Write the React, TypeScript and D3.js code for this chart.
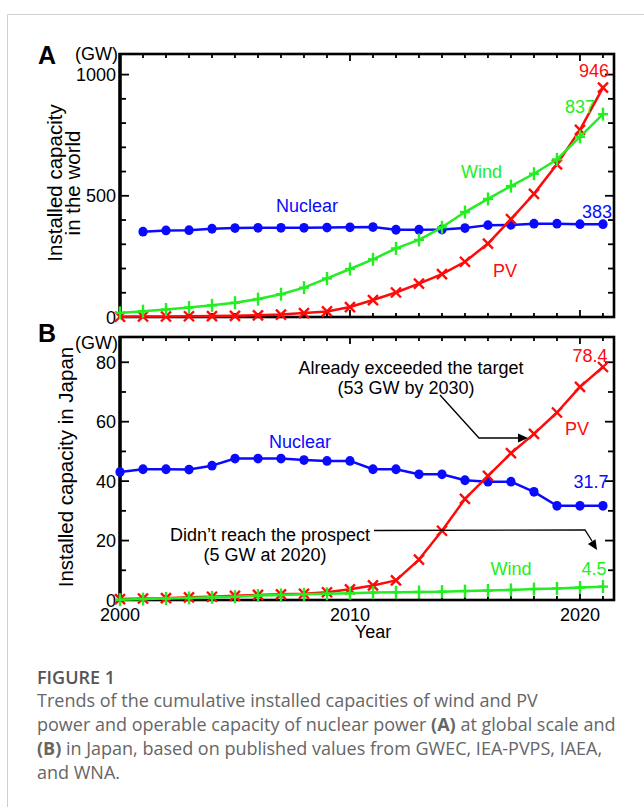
import React from 'react';
import * as d3 from 'd3';

const years = [2000, 2001, 2002, 2003, 2004, 2005, 2006, 2007, 2008, 2009, 2010, 2011, 2012, 2013, 2014, 2015, 2016, 2017, 2018, 2019, 2020, 2021];

// Panel A: world (GW)
const worldNuclear: (number | null)[] = [null, 352, 357, 358, 364, 367, 368, 368, 368, 369, 370, 371, 360, 360, 361, 367, 379, 380, 385, 385, 383, 383];
const worldWind = [17, 24, 31, 39, 48, 59, 74, 94, 121, 159, 198, 238, 283, 318, 370, 433, 487, 540, 591, 650, 743, 837];
const worldPV = [1, 2, 2, 3, 4, 5, 7, 10, 16, 23, 41, 70, 101, 138, 177, 228, 303, 404, 508, 630, 772, 946];

// Panel B: Japan (GW)
const japanNuclear = [43.1, 44.0, 44.0, 43.9, 45.2, 47.6, 47.6, 47.6, 47.1, 46.8, 46.8, 44.0, 44.0, 42.3, 42.3, 40.3, 39.8, 39.8, 36.4, 31.7, 31.7, 31.7];
const japanPV = [0.3, 0.5, 0.6, 0.9, 1.1, 1.4, 1.7, 1.9, 2.1, 2.6, 3.6, 4.9, 6.6, 13.6, 23.3, 34.0, 41.8, 49.4, 55.9, 63.1, 71.7, 78.4];
const japanWind = [0.1, 0.3, 0.5, 0.7, 0.9, 1.1, 1.5, 1.7, 1.9, 2.1, 2.3, 2.5, 2.6, 2.7, 2.8, 3.0, 3.2, 3.4, 3.7, 3.9, 4.2, 4.5];

const majorYears = [2000, 2010, 2020];
const xTickLabels = ['2000', '2010', '2020'];

const BLUE = '#0a0aff';
const RED = '#ff0a0a';
const GREEN = '#22ee22';
const FONT = 'Liberation Sans, Arial, Helvetica, sans-serif';
const CAPFONT = '"Open Sans", "Noto Sans", sans-serif';

const X0 = 120, X1 = 614;
const x = d3.scaleLinear().domain([2000, 2021.48]).range([X0, X1]);
const yA = d3.scaleLinear().domain([0, 1085]).range([317, 54]);
const yB = d3.scaleLinear().domain([0, 88.5]).range([600, 337]);

type Scale = d3.ScaleLinear<number, number>;

function Series({ vals, y, color, marker }: { vals: (number | null)[]; y: Scale; color: string; marker: 'o' | 'x' | '+' }) {
  const pts = years.map((yr, i) => [yr, vals[i]] as [number, number | null]);
  const line = d3.line<[number, number | null]>()
    .defined(d => d[1] !== null)
    .x(d => x(d[0]))
    .y(d => y(d[1] as number));
  return (
    <g>
      <path d={line(pts) || ''} fill="none" stroke={color} strokeWidth={2.5} strokeLinejoin="round" />
      {pts.filter(d => d[1] !== null).map((d, i) => {
        const cx = x(d[0]);
        const cy = y(d[1] as number);
        if (marker === 'o') return <ellipse key={i} cx={cx} cy={cy} rx={4.6} ry={4.9} fill={color} />;
        if (marker === 'x') return (
          <g key={i} stroke={color} strokeWidth={2.4}>
            <line x1={cx - 5} y1={cy - 5} x2={cx + 5} y2={cy + 5} />
            <line x1={cx - 5} y1={cy + 5} x2={cx + 5} y2={cy - 5} />
          </g>
        );
        return (
          <g key={i} stroke={color} strokeWidth={2.4}>
            <line x1={cx - 5} y1={cy} x2={cx + 5} y2={cy} />
            <line x1={cx} y1={cy - 6.5} x2={cx} y2={cy + 6.5} />
          </g>
        );
      })}
    </g>
  );
}

function Frame({ y, ticks, major }: { y: Scale; ticks: number[]; major: (v: number) => boolean }) {
  const [yb, yt] = y.range();
  return (
    <g stroke="#000">
      {years.map(yr => {
        const L = majorYears.includes(yr) ? 7 : 4;
        return (
          <g key={yr} strokeWidth={1.8}>
            <line x1={x(yr)} x2={x(yr)} y1={yt} y2={yt + L} />
            <line x1={x(yr)} x2={x(yr)} y1={yb} y2={yb - L} />
          </g>
        );
      })}
      {ticks.map(v => {
        const L = major(v) ? 9 : 6;
        return (
          <g key={v} strokeWidth={1.8}>
            <line x1={X0} x2={X0 + L} y1={y(v)} y2={y(v)} />
            <line x1={X1} x2={X1 - L} y1={y(v)} y2={y(v)} />
          </g>
        );
      })}
      <rect x={X0} y={yt} width={X1 - X0} height={yb - yt} fill="none" strokeWidth={2.6} />
      <line x1={X0} x2={X0} y1={yt - 1} y2={yb + 1} strokeWidth={3.4} />
    </g>
  );
}

function Arrow({ d, tip, angle }: { d: string; tip: [number, number]; angle: number }) {
  return (
    <g>
      <path d={d} fill="none" stroke="#000" strokeWidth={1.3} />
      <path d="M0,0 L-10,-4.5 L-10,4.5 Z" fill="#000" transform={`translate(${tip[0]},${tip[1]}) rotate(${angle})`} />
    </g>
  );
}

export default function App() {
  const yATicks = yA.ticks(10);
  const yBTicks = yB.ticks(9);
  const yAMajor = yATicks.filter(v => v % 500 === 0);
  const yBMajor = yBTicks.filter(v => v % 20 === 0);
  return (
    <svg width={644} height={807} style={{ position: 'absolute', left: 0, top: 0, background: '#fff' }} fontFamily={FONT}>
      <rect width={644} height={807} fill="#fff" />
      <line x1={7.5} x2={644} y1={14.5} y2={14.5} stroke="#cfcfcf" strokeWidth={1} />
      <line x1={7.5} x2={7.5} y1={14.5} y2={807} stroke="#cfcfcf" strokeWidth={1} />

      {/* Panel A */}
      <Frame y={yA} ticks={yATicks} major={v => v % 500 === 0} />
      <g fontSize={18} textAnchor="end">
        {yAMajor.map(v => <text key={v} x={116} y={yA(v) + 6.5}>{v}</text>)}
      </g>
      <text x={38} y={64} fontSize={25} fontWeight="bold">A</text>
      <text x={118} y={60} fontSize={18} textAnchor="end">(GW)</text>
      <text transform="translate(61.5,183) rotate(-90)" fontSize={20.5} textAnchor="middle">Installed capacity</text>
      <text transform="translate(80,183) rotate(-90)" fontSize={20.5} textAnchor="middle">in the world</text>
      <Series vals={worldNuclear} y={yA} color={BLUE} marker="o" />
      <Series vals={worldPV} y={yA} color={RED} marker="x" />
      <Series vals={worldWind} y={yA} color={GREEN} marker="+" />
      <g fontSize={18}>
        <text x={276} y={212} fill={BLUE}>Nuclear</text>
        <text x={461} y={178} fill={GREEN}>Wind</text>
        <text x={493} y={277} fill={RED}>PV</text>
        <text x={579} y={77} fill={RED}>946</text>
        <text x={565} y={113} fill={GREEN}>837</text>
        <text x={582} y={218} fill={BLUE}>383</text>
      </g>

      {/* Panel B */}
      <Frame y={yB} ticks={yBTicks} major={v => v % 20 === 0} />
      <g fontSize={18} textAnchor="end">
        {yBMajor.map(v => <text key={v} x={116} y={yB(v) + 6.5}>{v}</text>)}
      </g>
      <g fontSize={18} textAnchor="middle">
        {majorYears.map((yr, i) => <text key={yr} x={x(yr)} y={621}>{xTickLabels[i]}</text>)}
        <text x={373} y={638}>Year</text>
      </g>
      <text x={38} y={342} fontSize={25} fontWeight="bold">B</text>
      <text x={118} y={349} fontSize={18} textAnchor="end">(GW)</text>
      <text transform="translate(73,467) rotate(-90)" fontSize={20.5} textAnchor="middle">Installed capacity in Japan</text>
      <Series vals={japanNuclear} y={yB} color={BLUE} marker="o" />
      <Series vals={japanPV} y={yB} color={RED} marker="x" />
      <Series vals={japanWind} y={yB} color={GREEN} marker="+" />
      <g fontSize={18}>
        <text x={269} y={448} fill={BLUE}>Nuclear</text>
        <text x={511} y={575} fill={GREEN} textAnchor="middle">Wind</text>
        <text x={577} y={435} fill={RED} textAnchor="middle">PV</text>
        <text x={590} y={362} fill={RED} textAnchor="middle">78.4</text>
        <text x={591} y={488} fill={BLUE} textAnchor="middle">31.7</text>
        <text x={594} y={575} fill={GREEN} textAnchor="middle">4.5</text>
      </g>
      <g fontSize={18} textAnchor="middle">
        <text x={411} y={374}>Already exceeded the target</text>
        <text x={406} y={394}>(53 GW by 2030)</text>
        <text x={270} y={541}>Didn’t reach the prospect</text>
        <text x={265} y={561}>(5 GW at 2020)</text>
      </g>
      <Arrow d="M440,395 L479,438 L520,438" tip={[528, 438]} angle={0} />
      <Arrow d="M374,530.5 L585,530 L592,541" tip={[597, 550]} angle={58} />

      {/* Caption */}
      <text x={37} y={684} fontFamily={CAPFONT} fontSize={18} fontWeight={600} fill="#555">FIGURE 1</text>
      <g fontFamily={CAPFONT} fontSize={18} fill="#666">
        <text x={37} y={707}>Trends of the cumulative installed capacities of wind and PV</text>
        <text x={37} y={731}>power and operable capacity of nuclear power <tspan fontWeight="bold">(A)</tspan> at global scale and</text>
        <text x={37} y={755}><tspan fontWeight="bold">(B)</tspan> in Japan, based on published values from GWEC, IEA-PVPS, IAEA,</text>
        <text x={37} y={779}>and WNA.</text>
      </g>
    </svg>
  );
}
